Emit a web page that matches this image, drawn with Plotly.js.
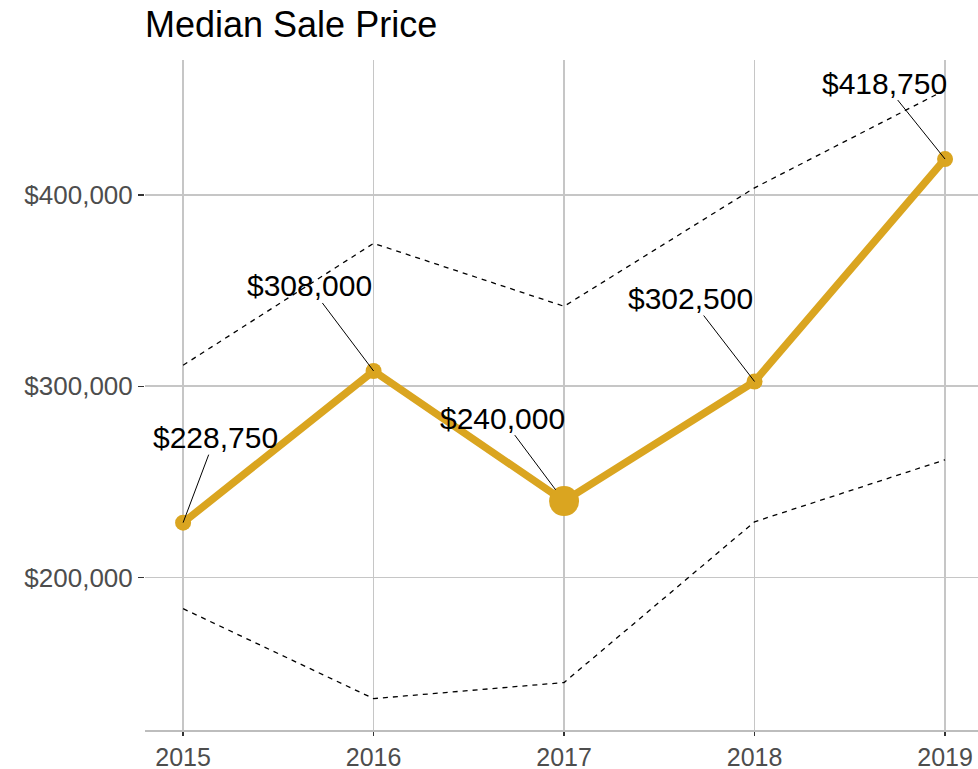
<!DOCTYPE html>
<html>
<head>
<meta charset="utf-8">
<script src="https://cdn.plot.ly/plotly-3.0.1.min.js"></script>
<style>html,body{margin:0;padding:0;background:#fff;}#chart{width:978px;height:769px;}</style>
</head>
<body>
<div id="chart"></div>
<script>
const years = [2015, 2016, 2017, 2018, 2019];
const medianPrice = [228750, 308000, 240000, 302500, 418750];
const upperBand = [311000, 374700, 341800, 403700, 454800];
const lowerBand = [183800, 136800, 145200, 229200, 261600];
const yTickVals = [200000, 300000, 400000];
const markerSizes = [16, 16, 30, 16, 16];
const labelOffsetX = [32, -64, -62, -64, -61];
const labelOffsetY = [-85, -85, -83, -83, -76];

const fmt = v => '$' + v.toLocaleString('en-US');
const FONT = 'Liberation Sans, Arial, Helvetica, sans-serif';

const traces = [
  {x: years, y: upperBand, type: 'scatter', mode: 'lines',
   line: {color: '#000', width: 1.3, dash: '5px,5px'}, hoverinfo: 'skip'},
  {x: years, y: lowerBand, type: 'scatter', mode: 'lines',
   line: {color: '#000', width: 1.3, dash: '5px,5px'}, hoverinfo: 'skip'},
  {x: years, y: medianPrice, type: 'scatter', mode: 'lines',
   line: {color: '#DAA520', width: 7.5}, hoverinfo: 'skip'},
  {x: years, y: medianPrice, type: 'scatter', mode: 'markers',
   marker: {color: '#DAA520', size: markerSizes, opacity: 1, line: {width: 0}}}
];

const annotations = years.map((yr, i) => ({
  x: yr, y: medianPrice[i], xref: 'x', yref: 'y',
  text: fmt(medianPrice[i]),
  showarrow: true, arrowhead: 0, arrowwidth: 1, arrowcolor: '#000',
  ax: labelOffsetX[i], ay: labelOffsetY[i],
  standoff: markerSizes[i] > 20 ? 14 : 0,
  font: {family: FONT, size: 30, color: '#000'},
  borderpad: 0
}));

const layout = {
  width: 978, height: 769,
  margin: {l: 145, r: 0, t: 60, b: 39},
  paper_bgcolor: '#fff', plot_bgcolor: '#fff',
  showlegend: false,
  font: {family: FONT},
  title: {text: 'Median Sale Price', x: 0, xref: 'paper', xanchor: 'left',
          y: 1 - 24/769, yanchor: 'middle',
          font: {family: FONT, size: 36, color: '#000'}},
  xaxis: {range: [2014.80, 2019.173], tickvals: years, ticktext: years.map(String),
          showgrid: true, gridcolor: '#c6c6c6', gridwidth: 1.6, zeroline: false,
          showline: true, linecolor: '#bdbdbd', linewidth: 1.5,
          ticks: 'outside', ticklen: 4, tickwidth: 1.5, tickcolor: '#333',
          tickfont: {family: FONT, size: 25, color: '#4d4d4d'}},
  yaxis: {range: [120400, 470500], tickvals: yTickVals, ticktext: yTickVals.map(fmt),
          showgrid: true, gridcolor: '#c6c6c6', gridwidth: 1.6, zeroline: false,
          showline: false,
          ticks: 'outside', ticklen: 6, tickwidth: 1.5, tickcolor: '#333',
          tickfont: {family: FONT, size: 26, color: '#4d4d4d'}},
  annotations: annotations
};

Plotly.newPlot('chart', traces, layout, {displayModeBar: false, staticPlot: true});
</script>
</body>
</html>
